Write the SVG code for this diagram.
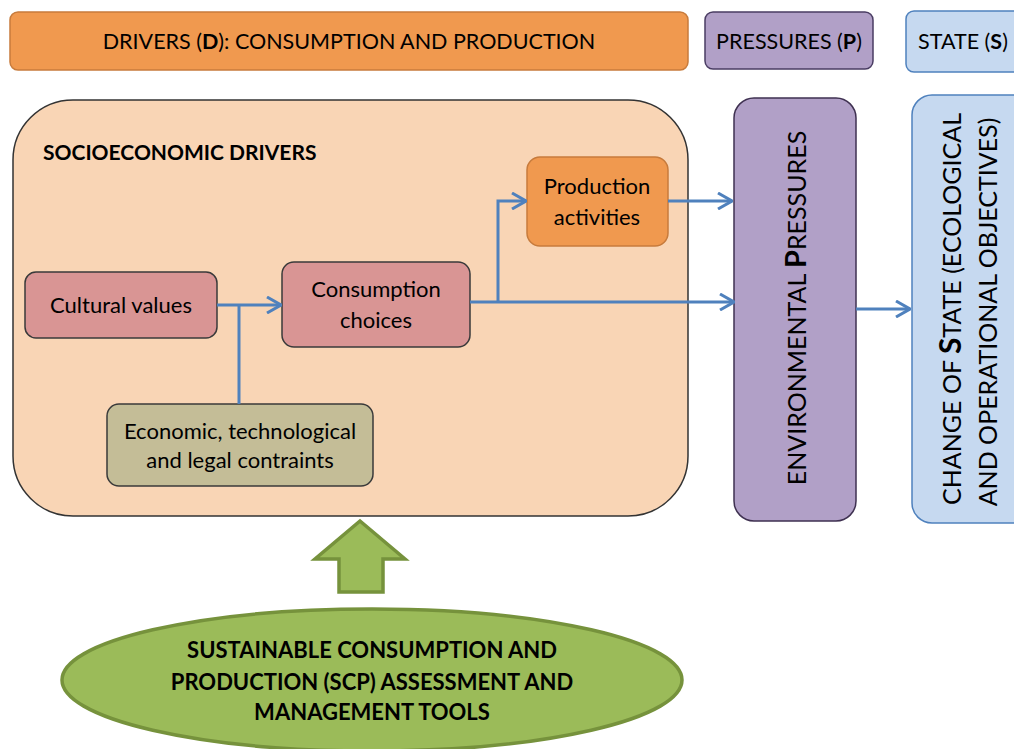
<svg xmlns="http://www.w3.org/2000/svg" width="1014" height="749" viewBox="0 0 1014 749">
<defs>
<marker id="chev" viewBox="0 0 16 18" refX="15" refY="9" markerWidth="16" markerHeight="18" markerUnits="userSpaceOnUse" orient="auto">
<path d="M1,1 L15,9 L1,17" fill="none" stroke="#4F81BD" stroke-width="3"/>
</marker>
<style>
text{font-family:Lato,"Open Sans","Liberation Sans",sans-serif;fill:#000;}
.lbl{font-size:22px;text-anchor:middle;}
.hdr{font-size:21.5px;text-anchor:middle;}
.bold{font-weight:bold;}
.conn{fill:none;stroke:#4F81BD;stroke-width:3;}
.dark{stroke:#3a3a3a;stroke-width:1.5;}
</style>
</defs>
<rect width="1014" height="749" fill="#fff"/>

<g id="header-drivers">
<rect x="10" y="12" width="678" height="58" rx="8" fill="#F0994F" stroke="#C77B3C" stroke-width="1.5"/>
<text class="hdr" x="349" y="49">DRIVERS (<tspan class="bold">D</tspan>): CONSUMPTION AND PRODUCTION</text>
</g>
<g id="header-pressures">
<rect x="705" y="12" width="168" height="57" rx="8" fill="#B1A0C7" stroke="#4a3d63" stroke-width="1.5"/>
<text class="hdr" x="789" y="49">PRESSURES (<tspan class="bold">P</tspan>)</text>
</g>
<g id="header-state">
<rect x="906" y="11" width="130" height="61" rx="8" fill="#C6D9F0" stroke="#4F81BD" stroke-width="1.5"/>
<text class="hdr" x="963" y="49">STATE (<tspan class="bold">S</tspan>)</text>
</g>

<g id="socioeconomic-drivers">
<rect x="13" y="100" width="675" height="416" rx="60" fill="#F9D5B5" stroke="#333" stroke-width="1.5"/>
<text x="43" y="160" font-size="21" class="bold">SOCIOECONOMIC DRIVERS</text>
</g>

<g id="cultural-values">
<rect x="25" y="272" width="192" height="66" rx="11" fill="#D99594" class="dark"/>
<text class="lbl" x="121" y="313">Cultural values</text>
</g>
<g id="consumption-choices">
<rect x="282" y="262" width="188" height="85" rx="12" fill="#D99594" class="dark"/>
<text class="lbl" x="376" y="297">Consumption</text>
<text class="lbl" x="376" y="328">choices</text>
</g>
<g id="production-activities">
<rect x="527" y="157" width="141" height="89" rx="13" fill="#F0994F" stroke="#C77B3C" stroke-width="1.5"/>
<text class="lbl" x="597" y="194">Production</text>
<text class="lbl" x="597" y="225">activities</text>
</g>
<g id="constraints">
<rect x="107" y="404" width="266" height="82" rx="12" fill="#C4BD97" class="dark"/>
<text class="lbl" x="240" y="439" font-size="20">Economic, technological</text>
<text class="lbl" x="240" y="468" font-size="20">and legal contraints</text>
</g>

<g id="environmental-pressures">
<rect x="734" y="98" width="122" height="423" rx="20" fill="#B1A0C7" stroke="#3F3151" stroke-width="1.5"/>
<text transform="translate(806,308) rotate(-90)" font-size="25" text-anchor="middle">ENVIRONMENTAL <tspan class="bold" font-size="29">P</tspan>RESSURES</text>
</g>

<g id="change-of-state">
<rect x="912" y="95" width="130" height="428" rx="20" fill="#C6D9F0" stroke="#4F81BD" stroke-width="1.5"/>
<text transform="translate(961,309) rotate(-90)" font-size="25" text-anchor="middle">CHANGE OF  <tspan class="bold" font-size="30">S</tspan>TATE (ECOLOGICAL</text>
<text transform="translate(997,312) rotate(-90)" font-size="25" text-anchor="middle">AND OPERATIONAL OBJECTIVES)</text>
</g>

<g id="connectors">
<path class="conn" d="M217,305 H281" marker-end="url(#chev)"/>
<path class="conn" d="M239,305 V404"/>
<path class="conn" d="M470,302 H734" marker-end="url(#chev)"/>
<path class="conn" d="M498,302 V201 H526" marker-end="url(#chev)"/>
<path class="conn" d="M668,201 H732" marker-end="url(#chev)"/>
<path class="conn" d="M856,309 H910" marker-end="url(#chev)"/>
</g>

<g id="scp-arrow">
<path d="M360,521 L405,559 L383,559 L383,592 L339,592 L339,559 L315,559 Z" fill="#9BBB59" stroke="#76923C" stroke-width="3.5"/>
</g>
<g id="scp-tools">
<ellipse cx="372" cy="680" rx="310" ry="71" fill="#9BBB59" stroke="#76923C" stroke-width="3.5"/>
<text class="lbl bold" x="372" y="658" font-size="21.5">SUSTAINABLE CONSUMPTION AND</text>
<text class="lbl bold" x="372" y="690" font-size="21.5">PRODUCTION (SCP) ASSESSMENT AND</text>
<text class="lbl bold" x="372" y="720" font-size="21.5">MANAGEMENT TOOLS</text>
</g>
</svg>
